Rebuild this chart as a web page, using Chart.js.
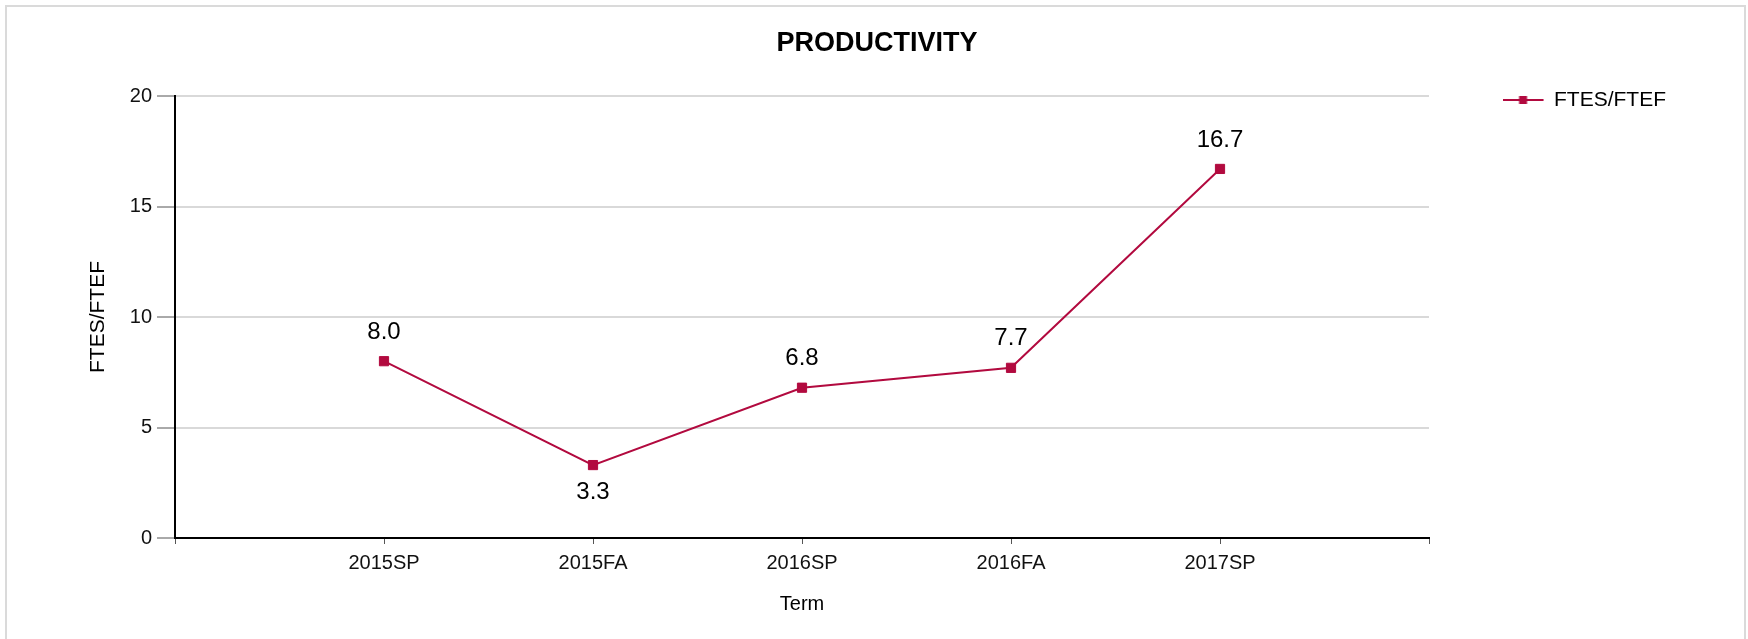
<!DOCTYPE html>
<html>
<head>
<meta charset="utf-8">
<script src="https://cdn.jsdelivr.net/npm/chart.js@4/dist/chart.umd.min.js"></script>
<style>
  html, body { margin: 0; padding: 0; background: #fff; overflow: hidden; }
  #frame { position: absolute; left: 5px; top: 5px; width: 1737px; height: 700px; border: 2px solid #dadada; box-sizing: content-box; }
  #c { position: absolute; left: 0; top: 0; }
</style>
</head>
<body>
<div id="frame"></div>
<canvas id="c" width="1748" height="639"></canvas>
<script>
// ---- data ----
const terms = ['2015SP', '2015FA', '2016SP', '2016FA', '2017SP'];
const ftesPerFtef = [8.0, 3.3, 6.8, 7.7, 16.7];
const seriesName = 'FTES/FTEF';
const yTicks = [0, 5, 10, 15, 20];

// ---- styling ----
const FONT = "'Liberation Sans', Arial, Helvetica, sans-serif";
const LINE_COLOR = '#b20a3f';

// axis labels padded with empty slots at both ends (axis extends one slot beyond first/last term)
const axisLabels = [''].concat(terms, ['']);
const axisData = [null].concat(ftesPerFtef, [null]);

// legend marker: line with a square (drawn into a canvas; marker sits in the left part)
function makeLegendMarker() {
  const cv = document.createElement('canvas');
  cv.width = 57; cv.height = 20;
  const g = cv.getContext('2d');
  g.strokeStyle = LINE_COLOR; g.lineWidth = 2;
  g.beginPath(); g.moveTo(0, 10); g.lineTo(41, 10); g.stroke();
  g.fillStyle = LINE_COLOR;
  g.fillRect(16.5, 6, 8, 8);
  return cv;
}

const dataLabelPlugin = {
  id: 'pointValueLabels',
  afterDatasetsDraw(chart) {
    const ctx = chart.ctx;
    const meta = chart.getDatasetMeta(0);
    const data = chart.data.datasets[0].data;
    ctx.save();
    ctx.font = '24px ' + FONT;
    ctx.fillStyle = '#000';
    ctx.textAlign = 'center';
    ctx.textBaseline = 'middle';
    meta.data.forEach((pt, i) => {
      const v = data[i];
      if (v === null || v === undefined) return;
      const prev = data[i - 1], next = data[i + 1];
      const isLocalMin = (prev != null && next != null && v < prev && v < next);
      const y = isLocalMin ? pt.y + 27 : pt.y - 29;
      ctx.fillText(v.toFixed(1), pt.x, y);
    });
    ctx.restore();
  }
};

new Chart(document.getElementById('c'), {
  type: 'line',
  data: {
    labels: axisLabels,
    datasets: [{
      label: seriesName,
      data: axisData,
      borderColor: LINE_COLOR,
      backgroundColor: LINE_COLOR,
      borderWidth: 2,
      pointStyle: 'rect',
      pointRadius: 6.5,
      pointBorderWidth: 1,
      pointHoverRadius: 6.5,
      tension: 0,
      spanGaps: false
    }]
  },
  options: {
    responsive: false,
    animation: false,
    devicePixelRatio: 1,
    layout: { padding: { left: 78, right: 72, top: 0, bottom: 0 } },
    plugins: {
      tooltip: { enabled: false },
      title: {
        display: true,
        text: 'PRODUCTIVITY',
        color: '#000',
        font: { family: FONT, size: 27, weight: 'bold' },
        padding: { top: 27.8, bottom: 35.8 }
      },
      legend: {
        display: true,
        position: 'right',
        align: 'start',
        fullSize: true,
        labels: {
          usePointStyle: true,
          pointStyle: makeLegendMarker(),
          pointStyleWidth: 25,
          padding: 89.5,
          color: '#000',
          font: { family: FONT, size: 21 }
        }
      }
    },
    scales: {
      x: {
        type: 'category',
        offset: false,
        grid: { display: true, drawOnChartArea: false, drawTicks: true, tickLength: 6, tickColor: '#555', tickWidth: 1 },
        border: { display: true, color: '#000', width: 2 },
        ticks: { color: '#111', font: { family: FONT, size: 20 }, padding: 7, maxRotation: 0, autoSkip: false },
        title: { display: true, text: 'Term', color: '#000', font: { family: FONT, size: 20 }, padding: { top: 4, bottom: 23 } },
        afterFit(scale) { scale.height = 101; }
      },
      y: {
        min: 0,
        max: 20,
        afterBuildTicks(scale) { scale.ticks = yTicks.map(v => ({ value: v })); },
        grid: { color: '#d9d9d9', lineWidth: 2, drawTicks: true, tickLength: 18, tickColor: '#555', tickWidth: 1 },
        border: { display: true, color: '#000', width: 2 },
        ticks: { color: '#111', font: { family: FONT, size: 20 }, padding: 5 },
        title: { display: true, text: 'FTES/FTEF', color: '#000', font: { family: FONT, size: 21 }, padding: { top: 7.9, bottom: 4 } },
        afterFit(scale) { scale.width = 175 - 78; }
      }
    }
  },
  plugins: [dataLabelPlugin]
});
</script>
</body>
</html>
